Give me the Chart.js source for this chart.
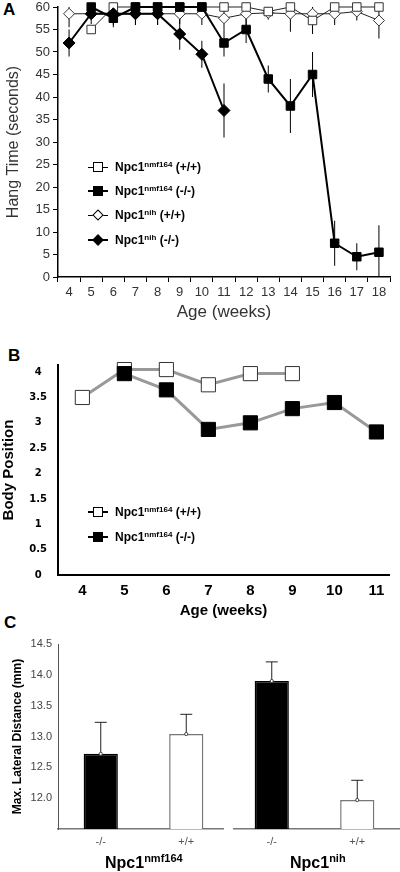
<!DOCTYPE html>
<html>
<head>
<meta charset="utf-8">
<script src="https://cdn.jsdelivr.net/npm/chart.js@4.4.1/dist/chart.umd.min.js"></script>
<style>
  body { margin:0; background:#fff; width:400px; height:872px; position:relative; overflow:hidden; font-family:"Liberation Sans", Arial, sans-serif; }
  canvas { position:absolute; left:0; }
  .panel { position:absolute; font-weight:bold; font-size:17px; color:#000; line-height:18px; }
  .leg { position:absolute; left:88px; height:14px; width:160px; font-size:12px; font-weight:bold; color:#000; line-height:14px; white-space:nowrap; }
  .leg .ln { position:absolute; left:0; top:6px; width:20px; height:2px; background:#000; }
  .leg .mk { position:absolute; left:5px; top:2px; width:10px; height:10px; border:1px solid #000; box-sizing:border-box; background:#fff; }
  .leg .mk.fill { background:#000; }
  .leg .mk.dia { width:8px; height:8px; left:6px; top:3px; transform:rotate(45deg); }
  .leg .tx { position:absolute; left:27px; top:0; }
  .leg sup { font-size:8px; vertical-align:4px; line-height:0; }
  .grp { position:absolute; top:853px; font-size:16px; font-weight:bold; color:#000; line-height:20px; white-space:nowrap; }
  .grp sup { font-size:11px; vertical-align:6px; line-height:0; }
</style>
</head>
<body>
<div class="panel" style="left:3px;top:1px">A</div>
<div class="panel" style="left:8px;top:347px">B</div>
<div class="panel" style="left:4px;top:614px">C</div>

<canvas id="chartA" width="400" height="330" style="top:0"></canvas>
<canvas id="chartB" width="400" height="280" style="top:340px"></canvas>
<canvas id="chartC" width="400" height="252" style="top:620px"></canvas>

<div class="leg" style="top:160px"><span class="ln" style="height:1px;top:7px"></span><span class="mk"></span><span class="tx">Npc1<sup>nmf164</sup> (+/+)</span></div>
<div class="leg" style="top:184px"><span class="ln"></span><span class="mk fill"></span><span class="tx">Npc1<sup>nmf164</sup> (-/-)</span></div>
<div class="leg" style="top:208px"><span class="ln" style="height:1px;top:7px"></span><span class="mk dia"></span><span class="tx">Npc1<sup>nih</sup> (+/+)</span></div>
<div class="leg" style="top:233px"><span class="ln"></span><span class="mk dia fill"></span><span class="tx">Npc1<sup>nih</sup> (-/-)</span></div>

<div class="leg" style="top:505px"><span class="ln"></span><span class="mk"></span><span class="tx">Npc1<sup>nmf164</sup> (+/+)</span></div>
<div class="leg" style="top:530px"><span class="ln"></span><span class="mk fill"></span><span class="tx">Npc1<sup>nmf164</sup> (-/-)</span></div>

<div class="grp" style="left:105px">Npc1<sup>nmf164</sup></div>
<div class="grp" style="left:290px">Npc1<sup>nih</sup></div>

<script>
// ---- Panel A: hang time ----
const weeksA = [4, 5, 6, 7, 8, 9, 10, 11, 12, 13, 14, 15, 16, 17, 18];
const nmfWT    = [null, 55, 60, 60, 60, 60, 60, 60, 60, 59, 60, 57, 60, 60, 60];
const nmfWTErr = [null, 0, 0, 0, 0, 0, 0, 0, 0, 1, 0, 3, 0, 0, 0];
const nmfKO    = [null, 60, 57.5, 60, 60, 60, 60, 52, 55, 44, 38, 45, 7.5, 4.5, 5.5];
const nmfKOErr = [null, 0, 2, 0, 0, 0, 0, 3, 3, 3, 6, 5, 5, 3, 6];
const nihWT    = [58.5, 58.5, 58.5, 58.5, 58.5, 58.5, 58.5, 57.5, 58.5, 58.7, 58.5, 58.5, 58.5, 59, 57];
const nihWTErr = [3, 2.3, 2, 2.5, 2.5, 2.3, 2.5, 2.5, 2.5, 1.5, 4, 2.5, 2.5, 2, 4];
const nihKO    = [52, 58.5, 58.5, 58.5, 58.5, 54, 49.5, 37, null, null, null, null, null, null, null];
const nihKOErr = [3, 1, 2.5, 2.5, 2.5, 3.5, 3, 6, null, null, null, null, null, null, null];

// ---- Panel B: body position ----
const weeksB = [4, 5, 6, 7, 8, 9, 10, 11];
const bodyWT = [3.5, 4.05, 4.05, 3.75, 3.97, 3.97, null, null];
const bodyKO = [null, 3.97, 3.65, 2.87, 3.0, 3.28, 3.4, 2.82];

// ---- Panel C: max lateral distance ----
const cLabels = ['-/-', '+/+', '-/-', '+/+'];
const cMeans  = [12.72, 13.04, 13.9, 11.97];
const cErrs   = [0.51, 0.32, 0.31, 0.32];

Chart.defaults.font.family = '"Liberation Sans", Arial, sans-serif';

// vertical error lines (both directions) drawn under the markers
const errorLines = {
  id: 'errorLines',
  beforeDatasetsDraw(chart) {
    const ctx = chart.ctx, ys = chart.scales.y, a = chart.chartArea;
    ctx.save();
    ctx.beginPath();
    ctx.rect(a.left, a.top, a.right - a.left, a.bottom - a.top);
    ctx.clip();
    ctx.strokeStyle = '#000';
    ctx.lineWidth = 1;
    chart.data.datasets.forEach((ds, i) => {
      if (!ds.errors) return;
      chart.getDatasetMeta(i).data.forEach((pt, j) => {
        const v = ds.data[j], e = ds.errors[j];
        if (v == null || !e) return;
        ctx.beginPath();
        ctx.moveTo(pt.x, ys.getPixelForValue(v - e));
        ctx.lineTo(pt.x, ys.getPixelForValue(v + e));
        ctx.stroke();
      });
    });
    ctx.restore();
  }
};

// upper error bars with cap for the bar chart, plus the little mean dot
const barErrors = {
  id: 'barErrors',
  afterDatasetsDraw(chart) {
    const ctx = chart.ctx, ys = chart.scales.y;
    const ds = chart.data.datasets[0];
    ctx.save();
    chart.getDatasetMeta(0).data.forEach((bar, j) => {
      const top = ys.getPixelForValue(ds.data[j] + ds.errors[j]);
      ctx.strokeStyle = '#222';
      ctx.lineWidth = 1;
      ctx.beginPath();
      ctx.moveTo(bar.x, bar.y);
      ctx.lineTo(bar.x, top);
      ctx.moveTo(bar.x - 6, top);
      ctx.lineTo(bar.x + 6, top);
      ctx.stroke();
      ctx.beginPath();
      ctx.arc(bar.x, bar.y, 1.6, 0, Math.PI * 2);
      ctx.fillStyle = '#fff';
      ctx.fill();
      ctx.strokeStyle = '#444';
      ctx.stroke();
    });
    ctx.restore();
  }
};

// break in the x axis between the two genotype groups
const axisGap = {
  id: 'axisGap',
  afterDraw(chart) {
    const xs = chart.scales.x, ctx = chart.ctx;
    const mid = (xs.getPixelForValue(1) + xs.getPixelForValue(2)) / 2;
    ctx.save();
    ctx.fillStyle = '#fff';
    ctx.fillRect(mid - 5, chart.chartArea.bottom - 2, 9, 5);
    ctx.restore();
  }
};

function zeroPad(s) { s.paddingTop = 0; s.paddingBottom = 0; s.paddingLeft = 0; s.paddingRight = 0; }

new Chart(document.getElementById('chartA'), {
  type: 'line',
  data: {
    labels: weeksA,
    datasets: [
      { data: nmfKO, errors: nmfKOErr, borderColor: '#000', borderWidth: 2, pointStyle: 'rect', pointRadius: 6,
        pointBackgroundColor: '#000', pointBorderColor: '#000', pointBorderWidth: 1, order: 0, clip: false },
      { data: nihKO, errors: nihKOErr, borderColor: '#000', borderWidth: 2, pointStyle: 'rectRot', pointRadius: 6,
        pointBackgroundColor: '#000', pointBorderColor: '#000', pointBorderWidth: 1, order: 1, clip: false },
      { data: nmfWT, errors: nmfWTErr, borderColor: '#222', borderWidth: 1, pointStyle: 'rect', pointRadius: 6,
        pointBackgroundColor: '#fff', pointBorderColor: '#333', pointBorderWidth: 1, order: 2, clip: false },
      { data: nihWT, errors: nihWTErr, borderColor: '#222', borderWidth: 1, pointStyle: 'rectRot', pointRadius: 5.5,
        pointBackgroundColor: '#fff', pointBorderColor: '#333', pointBorderWidth: 1, order: 3, clip: false }
    ]
  },
  options: {
    responsive: false, animation: false,
    layout: { padding: { top: 5, right: 10, left: 0, bottom: 0 } },
    plugins: { legend: { display: false }, tooltip: { enabled: false } },
    scales: {
      x: {
        offset: true,
        grid: { drawOnChartArea: false, offset: true, tickLength: 5, color: '#000' },
        border: { color: '#000', width: 1.5 },
        ticks: { color: '#333', font: { size: 13 }, padding: 3, maxRotation: 0, autoSkip: false },
        title: { display: true, text: 'Age (weeks)', color: '#333', font: { size: 17 }, padding: { top: 0, bottom: 7 } },
        afterFit: s => { s.height = 53; zeroPad(s); }
      },
      y: {
        min: 0, max: 60,
        grid: { drawOnChartArea: false, tickLength: 5, color: '#000' },
        border: { color: '#000', width: 1.5 },
        ticks: { stepSize: 5, color: '#333', font: { size: 13 }, padding: 3 },
        title: { display: true, text: 'Hang Time (seconds)', color: '#333', font: { size: 16 }, padding: { top: 4, bottom: 0 } },
        afterFit: s => { s.width = 58; zeroPad(s); }
      }
    }
  },
  plugins: [errorLines]
});

new Chart(document.getElementById('chartB'), {
  type: 'line',
  data: {
    datasets: [
      { data: weeksB.map((w, i) => ({ x: w, y: bodyKO[i] })), borderColor: '#999', borderWidth: 3, clip: false,
        pointStyle: 'rect', pointRadius: 10, pointBackgroundColor: '#000', pointBorderColor: '#000', pointBorderWidth: 1 },
      { data: weeksB.map((w, i) => ({ x: w, y: bodyWT[i] })), borderColor: '#999', borderWidth: 3, clip: false,
        pointStyle: 'rect', pointRadius: 10, pointBackgroundColor: '#fff', pointBorderColor: '#333', pointBorderWidth: 1 }
    ]
  },
  options: {
    responsive: false, animation: false,
    layout: { padding: { top: 25, right: 10, left: 0, bottom: 0 } },
    plugins: { legend: { display: false }, tooltip: { enabled: false } },
    scales: {
      x: {
        type: 'linear', min: 3.42, max: 11.3,
        grid: { display: false, drawTicks: false },
        border: { display: true, color: '#000', width: 2 },
        ticks: { stepSize: 1, includeBounds: false, color: '#000', font: { size: 15, weight: 'bold' }, padding: 7 },
        title: { display: true, text: 'Age (weeks)', color: '#000', font: { size: 15, weight: 'bold' }, padding: { top: 0, bottom: 0 } },
        afterFit: s => { s.height = 45; zeroPad(s); }
      },
      y: {
        min: 0, max: 4.14,
        grid: { display: false, drawTicks: false },
        border: { display: true, color: '#000', width: 2 },
        ticks: { stepSize: 0.5, includeBounds: false, crossAlign: 'center', color: '#000',
                 font: { family: '"DejaVu Sans", sans-serif', size: 10, weight: 'bold' }, padding: 11,
                 callback: v => (Number.isInteger(v) ? String(v) : v.toFixed(1)) },
        title: { display: true, text: 'Body Position', color: '#000', font: { size: 15, weight: 'bold' }, padding: { top: 0, bottom: 0 } },
        afterFit: s => { s.width = 58; zeroPad(s); }
      }
    }
  }
});

new Chart(document.getElementById('chartC'), {
  type: 'bar',
  data: {
    labels: cLabels,
    datasets: [{
      data: cMeans, errors: cErrs,
      backgroundColor: ['#000', '#fff', '#000', '#fff'],
      borderColor: ['#000', '#777', '#000', '#777'],
      borderWidth: 1.5, barPercentage: 0.4, categoryPercentage: 1
    }]
  },
  options: {
    responsive: false, animation: false,
    layout: { padding: { top: 24, right: 0, left: 0, bottom: 0 } },
    plugins: { legend: { display: false }, tooltip: { enabled: false } },
    scales: {
      x: {
        grid: { display: false, drawTicks: false },
        border: { display: true, color: '#777', width: 1.5 },
        ticks: { color: '#555', font: { size: 11 }, padding: 6 },
        afterFit: s => { s.height = 43; zeroPad(s); }
      },
      y: {
        min: 11.5, max: 14.5,
        grid: { display: false, drawTicks: false },
        border: { display: true, color: '#555', width: 1 },
        ticks: { stepSize: 0.5, color: '#444', font: { size: 11 }, padding: 6,
                 callback: v => (v === 11.5 ? '' : v.toFixed(1)) },
        title: { display: true, text: 'Max. Lateral Distance (mm)', color: '#000', font: { size: 12, weight: 'bold' }, padding: { top: 10, bottom: 0 } },
        afterFit: s => { s.width = 58; zeroPad(s); }
      }
    }
  },
  plugins: [barErrors, axisGap]
});
</script>
</body>
</html>
